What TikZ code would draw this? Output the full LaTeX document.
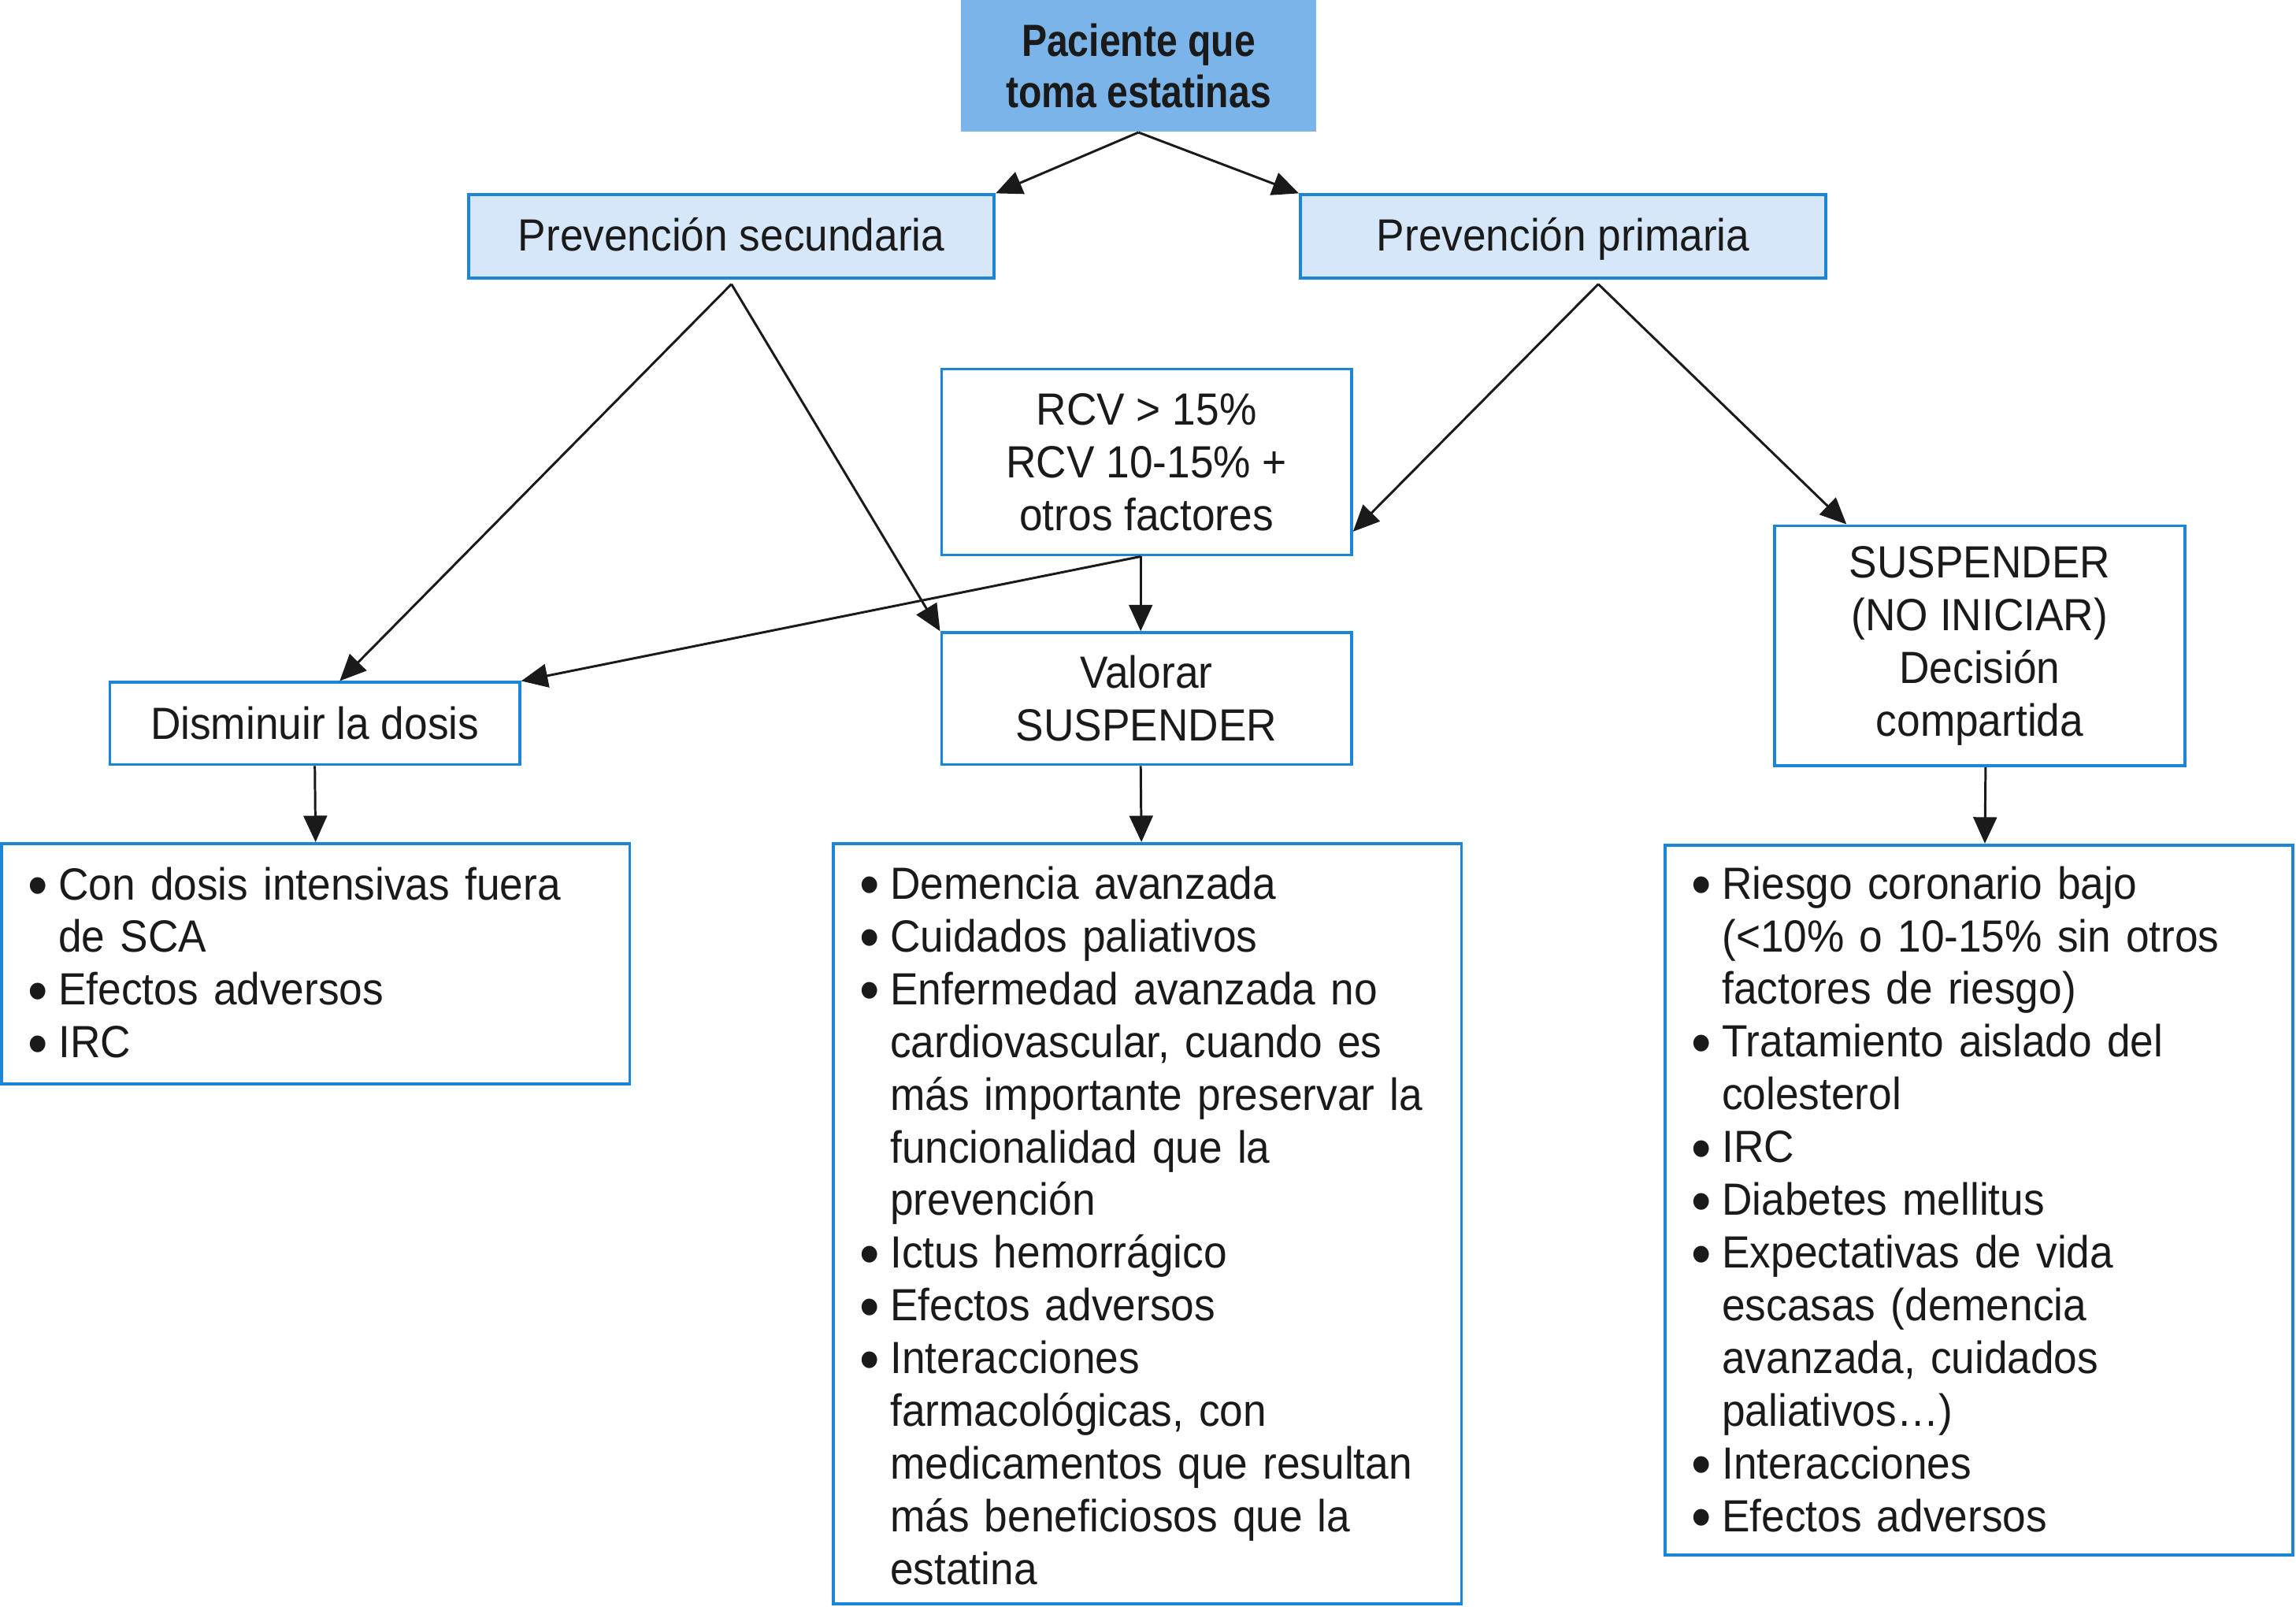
\documentclass[tikz,border=0pt]{standalone}
\usepackage{fontspec}
\setmainfont{Liberation Sans}[FakeStretch=0.93]
\newfontfamily\headfont{Liberation Sans}[FakeStretch=0.84]
\usetikzlibrary{arrows.meta}

\definecolor{boxblue}{RGB}{28,134,214}
\definecolor{lightfill}{RGB}{213,231,248}
\definecolor{topfill}{RGB}{122,180,232}
\definecolor{ink}{RGB}{26,26,26}

\newcommand{\bitem}{\par\hangindent=10.5pt\hangafter=1\noindent
    \makebox[10.5pt][l]{\fontsize{21pt}{18pt}\selectfont\raisebox{-2.3pt}{•}}}
\newcommand{\listend}{\par\vspace*{5.4pt}}

\begin{document}
\begin{tikzpicture}[x=0.5pt,y=-0.5pt,
    font=\fontsize{15.4pt}{18pt}\selectfont, text=ink,
    box/.style={draw=boxblue,line width=1pt,align=center,inner sep=0pt,minimum width=140pt},
    secbox/.style={box,fill=lightfill,minimum width=179.5pt,minimum height=28.5pt,
        text height=14pt,text depth=4pt},
    listbox/.style={draw=boxblue,line width=1pt,align=left,inner xsep=9pt,inner ysep=0pt,
        text width=196.5pt,minimum width=214.5pt},
    arr/.style={-{Triangle[length=9pt,width=8pt]},line width=0.8pt,ink}]

    \useasboundingbox (0,0) rectangle (1568,1097);

    \node[fill=topfill,minimum width=121.5pt,minimum height=45pt,align=center,
        font=\headfont\bfseries\fontsize{15.4pt}{17.5pt}\selectfont] (paciente) at (777.5,45)
        {Paciente que\\toma estatinas};

    \node[secbox] (secundaria) at (499.5,161.5) {Prevención secundaria};
    \node[secbox] (primaria) at (1067.5,161.5) {Prevención primaria};

    \node[box,minimum height=63.5pt] (rcv) at (783,315.5)
        {RCV > 15\%\\RCV 10-15\% +\\otros factores};
    \node[box,minimum height=28pt] (disminuir) at (215,494) {Disminuir la dosis};
    \node[box,minimum height=45pt] (valorar) at (783,477) {Valorar\\SUSPENDER};
    \node[box,minimum height=82pt] (suspender) at (1352,441)
        {SUSPENDER\\(NO INICIAR)\\Decisión\\compartida};

    \node[listbox,minimum height=82pt] (listaizq) at (215.5,658) {%
        \bitem Con dosis intensivas fuera\newline de SCA
        \bitem Efectos adversos
        \bitem IRC\listend};
    \node[listbox,minimum height=259.5pt] (listacen) at (783.5,835.5) {%
        \bitem Demencia avanzada
        \bitem Cuidados paliativos
        \bitem Enfermedad avanzada no\newline cardiovascular, cuando es\newline
            más importante preservar la\newline funcionalidad que la\newline prevención
        \bitem Ictus hemorrágico
        \bitem Efectos adversos
        \bitem Interacciones\newline farmacológicas, con\newline medicamentos que resultan\newline
            más beneficiosos que la\newline estatina\listend};
    \node[listbox,minimum height=242.5pt] (listader) at (1351.5,819.5) {%
        \bitem Riesgo coronario bajo\newline (<10\% o 10-15\% sin otros\newline factores de riesgo)
        \bitem Tratamiento aislado del\newline colesterol
        \bitem IRC
        \bitem Diabetes mellitus
        \bitem Expectativas de vida\newline escasas (demencia\newline avanzada, cuidados\newline paliativos…)
        \bitem Interacciones
        \bitem Efectos adversos\listend};

    \draw[arr] (paciente.south) -- (secundaria.north east);
    \draw[arr] (paciente.south) -- (primaria.north west);
    \draw[arr] ([yshift=-1.5pt]secundaria.south) -- ([xshift=8.5pt]disminuir.north);
    \draw[arr] ([yshift=-1.5pt]secundaria.south) -- (valorar.north west);
    \draw[arr] ([xshift=12pt,yshift=-1.5pt]primaria.south) -- ([yshift=8.5pt]rcv.south east);
    \draw[arr] ([xshift=12pt,yshift=-1.5pt]primaria.south) -- ([xshift=25pt]suspender.north west);
    \draw[arr] ([xshift=-2pt]rcv.south) -- ([xshift=-2pt]valorar.north);
    \draw[arr] ([xshift=-2pt]rcv.south) -- (disminuir.north east);
    \draw[arr] (disminuir.south) -- (listaizq.north);
    \draw[arr] ([xshift=-2pt]valorar.south) -- ([xshift=-2pt]listacen.north);
    \draw[arr] ([xshift=2pt]suspender.south) -- ([xshift=2pt]listader.north);
\end{tikzpicture}
\end{document}
